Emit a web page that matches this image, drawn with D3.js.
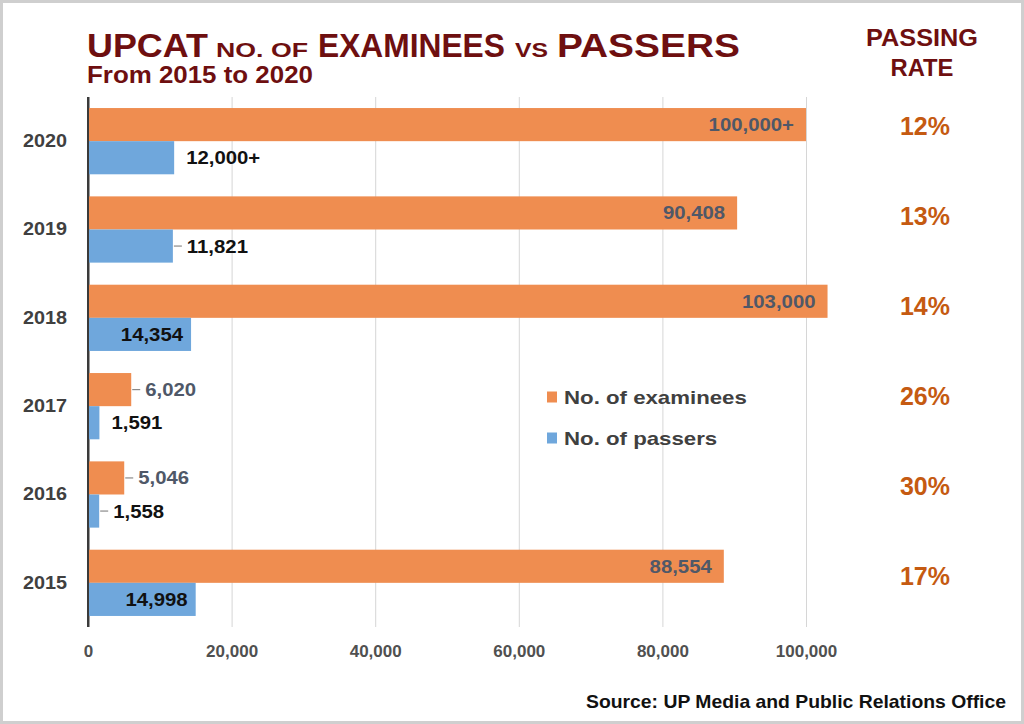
<!DOCTYPE html>
<html>
<head>
<meta charset="utf-8">
<script src="https://cdn.jsdelivr.net/npm/d3@7"></script>
<style>
  html, body { margin: 0; padding: 0; background: #fff; }
  svg { display: block; }
</style>
</head>
<body>
<svg id="chart" width="1024" height="724"></svg>
<script>
// ---------------- DATA ----------------
const years = ["2015", "2016", "2017", "2018", "2019", "2020"];
const examinees = [88554, 5046, 6020, 103000, 90408, 100000];
const passers = [14998, 1558, 1591, 14354, 11821, 12000];
const examineeLabels = ["88,554", "5,046", "6,020", "103,000", "90,408", "100,000+"];
const passerLabels = ["14,998", "1,558", "1,591", "14,354", "11,821", "12,000+"];
const passingRates = ["17%", "30%", "26%", "14%", "13%", "12%"];
const xTicks = [0, 20000, 40000, 60000, 80000, 100000];
const seriesNames = ["No. of examinees", "No. of passers"];

// ---------------- SETUP ----------------
const ORANGE = "#EF8D50", BLUE = "#6FA7DC", DARKRED = "#6E0F10", RATE = "#C55A11";
const FONT = "'Liberation Sans', Arial, sans-serif";
const svg = d3.select("#chart");

function stretch(sel, k) {
  sel.each(function () {
    const w = this.getComputedTextLength();
    d3.select(this).attr("textLength", w * k).attr("lengthAdjust", "spacingAndGlyphs");
  });
  return sel;
}
function fit(sel, w) {
  sel.attr("textLength", w).attr("lengthAdjust", "spacingAndGlyphs");
  return sel;
}
// scale a text horizontally (via transform) so it spans exactly w pixels starting at (x0, y0)
function scaleTo(sel, x0, y0, w) {
  const n = sel.node().getComputedTextLength();
  sel.attr("x", 0).attr("y", 0).attr("transform", `translate(${x0},${y0}) scale(${w / n},1)`);
  return sel;
}

// border
svg.append("rect").attr("x", 1.5).attr("y", 1.5).attr("width", 1021).attr("height", 721)
  .attr("fill", "#fff").attr("stroke", "#cfcfcf").attr("stroke-width", 3);

const plotTop = 97, plotBottom = 627;
const x = d3.scaleLinear().domain([0, 100000]).range([88, 806]);
const y = d3.scaleBand().domain(years.slice().reverse()).range([plotTop, plotBottom])
  .paddingInner(0.25).paddingOuter(0.125);
const bw = y.bandwidth();
const yRate = d3.scalePoint().domain(years.slice().reverse()).range([126, 576]);

// ---------------- GRID + X AXIS ----------------
const xAxis = svg.append("g").attr("transform", `translate(0,${plotBottom})`)
  .call(d3.axisBottom(x).tickValues(xTicks).tickFormat(d3.format(","))
    .tickSize(-(plotBottom - plotTop)).tickPadding(18));
xAxis.select(".domain").remove();
xAxis.selectAll(".tick line").attr("stroke", d => d === 0 ? "#3a3a3a" : "#d6d6d6")
  .attr("stroke-width", d => d === 0 ? 2 : 1);
xAxis.selectAll(".tick text").attr("fill", "#505050").attr("font-family", FONT)
  .attr("font-weight", "bold").attr("font-size", 17);

// ---------------- Y AXIS (years) ----------------
const yAxis = svg.append("g").attr("transform", `translate(88,0)`)
  .call(d3.axisLeft(y).tickSize(0).tickPadding(21));
yAxis.select(".domain").remove();
yAxis.selectAll(".tick text").attr("fill", "#404040").attr("font-family", FONT)
  .attr("font-weight", "bold").attr("font-size", 18);
stretch(yAxis.selectAll(".tick text"), 1.1);

// ---------------- BARS ----------------
const rows = years.map((yr, i) => ({
  yr, ex: examinees[i], pa: passers[i], exL: examineeLabels[i], paL: passerLabels[i], rate: passingRates[i]
}));

const gBars = svg.append("g");
gBars.selectAll("rect.ex").data(rows).join("rect").attr("class", "ex")
  .attr("x", x(0)).attr("y", d => y(d.yr)).attr("width", d => x(d.ex) - x(0)).attr("height", bw / 2)
  .attr("fill", ORANGE);
gBars.selectAll("rect.pa").data(rows).join("rect").attr("class", "pa")
  .attr("x", x(0)).attr("y", d => y(d.yr) + bw / 2).attr("width", d => x(d.pa) - x(0)).attr("height", bw / 2)
  .attr("fill", BLUE);

svg.append("line").attr("x1", 88).attr("x2", 88).attr("y1", plotTop).attr("y2", plotBottom)
  .attr("stroke", "#3a3a3a").attr("stroke-width", 2);

// ---------------- DATA LABELS ----------------
const noLeader = new Set(["12,000+", "1,591"]);
function drawLabels(key, lab, offset, color, pad) {
  const g = svg.append("g");
  rows.forEach(d => {
    const end = x(d[key]);
    const cy = y(d.yr) + offset + bw / 4;
    const inside = end - x(0) > 95;
    let t;
    if (inside) {
      t = g.append("text").attr("x", end - pad).attr("text-anchor", "end");
    } else if (noLeader.has(d[lab])) {
      t = g.append("text").attr("x", end + 12).attr("text-anchor", "start");
    } else {
      g.append("line").attr("x1", end + 1).attr("x2", end + 9).attr("y1", cy).attr("y2", cy)
        .attr("stroke", "#8a8a8a").attr("stroke-width", 1.2);
      t = g.append("text").attr("x", end + 14).attr("text-anchor", "start");
    }
    t.attr("y", cy).attr("dy", "0.36em").text(d[lab])
      .attr("font-family", FONT).attr("font-weight", "bold").attr("font-size", 18).attr("fill", color);
    stretch(t, 1.13);
  });
}
drawLabels("ex", "exL", 0, "#4F5868", 12);
drawLabels("pa", "paL", bw / 2, "#111111", 8);

// ---------------- PASSING RATE ----------------
const gRate = svg.append("g");
gRate.selectAll("text").data(rows).join("text")
  .attr("x", 925).attr("y", d => yRate(d.yr)).attr("dy", "0.36em").attr("text-anchor", "middle")
  .attr("font-family", FONT).attr("font-weight", "bold").attr("font-size", 25).attr("fill", RATE)
  .text(d => d.rate);

const rateHead = [["PASSING", 46, 112], ["RATE", 76, 63]];
rateHead.forEach(([t, yy, w]) => {
  fit(svg.append("text").attr("x", 922).attr("y", yy).attr("text-anchor", "middle")
    .attr("font-family", FONT).attr("font-weight", "bold").attr("font-size", 24)
    .attr("fill", DARKRED).text(t), w);
});

// ---------------- TITLE ----------------
const titleParts = [
  ["UPCAT", 87, 121, 34], ["NO. OF", 216, 92, 21], ["EXAMINEES", 318, 187, 34],
  ["VS", 515, 33, 21], ["PASSERS", 557, 183, 34]
];
titleParts.forEach(([t, xx, w, fs]) => {
  const el = svg.append("text").attr("font-family", FONT)
    .attr("font-weight", "bold").attr("font-size", fs).attr("fill", DARKRED).text(t);
  scaleTo(el, xx, 57, w);
});
scaleTo(svg.append("text").attr("font-family", FONT)
  .attr("font-weight", "bold").attr("font-size", 23).attr("fill", DARKRED)
  .text("From 2015 to 2020"), 87, 83, 226);

// ---------------- LEGEND ----------------
const gLeg = svg.append("g");
[ORANGE, BLUE].forEach((c, i) => {
  const cy = 397 + i * 41;
  gLeg.append("rect").attr("x", 547).attr("y", cy - 5.5).attr("width", 10).attr("height", 11).attr("fill", c);
  const t = gLeg.append("text").attr("x", 564).attr("y", cy).attr("dy", "0.36em")
    .attr("font-family", FONT).attr("font-weight", "bold").attr("font-size", 19).attr("fill", "#404040")
    .text(seriesNames[i]);
  stretch(t, 1.17);
});

// ---------------- SOURCE ----------------
fit(svg.append("text").attr("x", 1006).attr("y", 708).attr("text-anchor", "end")
  .attr("font-family", FONT).attr("font-weight", "bold").attr("font-size", 19).attr("fill", "#111")
  .text("Source: UP Media and Public Relations Office"), 420);
</script>
</body>
</html>
